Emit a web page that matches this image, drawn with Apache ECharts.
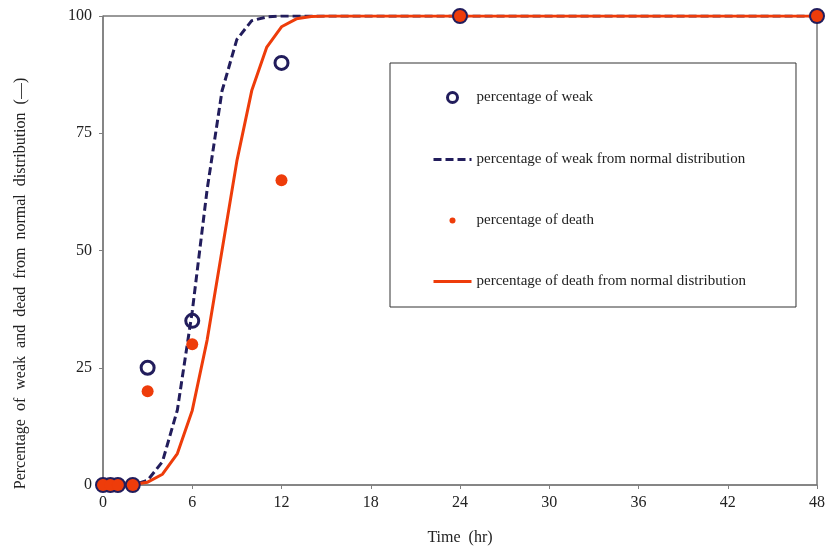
<!DOCTYPE html>
<html>
<head>
<meta charset="utf-8">
<script src="https://cdn.jsdelivr.net/npm/echarts@6/dist/echarts.min.js"></script>
<style>
	html, body { margin: 0; padding: 0; background: #fff; }
	#chart { width: 832px; height: 551px; }
</style>
</head>
<body>
<div id="chart"></div>
<script>
	// measured points (hr, %)
	var obsTime = [0, 0.5, 1, 2, 3, 6, 12, 24, 48];
	var weakObs = [0, 0, 0, 0, 25, 35, 90, 100, 100];
	var deathObs = [0, 0, 0, 0, 20, 30, 65, 100, 100];

	// fitted curves
	var fitTime = [0, 1, 2, 3, 4, 5, 6, 7, 8, 9, 10, 11, 12, 13, 14, 15, 16, 24, 48];
	var weakFit = [0, 0, 0, 1, 5, 16, 37, 63, 84, 95, 99, 99.8, 100, 100, 100, 100, 100, 100, 100];
	var deathFit = [0, 0, 0.1, 0.6, 2.3, 6.7, 15.9, 30.9, 50, 69.1, 84.1, 93.3, 97.7, 99.4, 99.9, 100, 100, 100, 100];

	var navy = '#221d5c';
	var red = '#ee3c0a';
	var font = '"Liberation Serif", "DejaVu Serif", serif';

	function pairs(xs, ys) {
		return xs.map(function (x, i) { return [x, ys[i]]; });
	}

	var chart = echarts.init(document.getElementById('chart'));
	chart.setOption({
		animation: false,
		textStyle: { fontFamily: font },
		grid: {
			left: 103, right: 15, top: 16, bottom: 66,
			show: true, borderColor: '#333', borderWidth: 1
		},
		legend: {
			orient: 'vertical',
			left: 390, top: 63,
			padding: [26, 50, 18, 42],
			itemGap: 46,
			itemWidth: 38,
			itemHeight: 14,
			borderColor: '#333',
			borderWidth: 1,
			lineStyle: { width: 3 },
			textStyle: { fontFamily: font, fontSize: 15, color: '#222' },
			data: [
				{ name: 'percentage of weak', icon: 'path://M0 0M14 14M2 7A5 5 0 1 1 12 7A5 5 0 1 1 2 7Z', itemStyle: { color: 'transparent', borderColor: navy, borderWidth: 3, opacity: 1 } },
				{ name: 'percentage of weak from normal distribution', itemStyle: { color: 'transparent', borderColor: 'transparent', borderWidth: 0 } },
				{ name: 'percentage of death', icon: 'path://M0 0M14 14M4 7A3 3 0 1 1 10 7A3 3 0 1 1 4 7Z', itemStyle: { opacity: 1 } },
				{ name: 'percentage of death from normal distribution', itemStyle: { color: 'transparent', borderColor: 'transparent', borderWidth: 0 } }
			]
		},
		xAxis: {
			type: 'value',
			min: 0, max: 48, interval: 6,
			name: 'Time  (hr)',
			nameLocation: 'middle',
			nameGap: 45,
			nameTextStyle: { fontFamily: font, fontSize: 16, color: '#222' },
			axisLine: { lineStyle: { color: '#808080', width: 1.5 } },
			axisTick: { show: true, length: 4, lineStyle: { color: '#808080' } },
			axisLabel: { fontFamily: font, fontSize: 16, color: '#222', margin: 10 },
			splitLine: { show: false }
		},
		yAxis: {
			type: 'value',
			min: 0, max: 100, interval: 25,
			name: 'Percentage  of  weak  and  dead  from  normal  distribution  (\u2014)',
			nameLocation: 'middle',
			nameGap: 74,
			nameTextStyle: { fontFamily: font, fontSize: 16, color: '#222', padding: [0, 66, 0, 0] },
			axisLine: { show: true, lineStyle: { color: '#808080', width: 1.5 } },
			axisTick: { show: true, length: 4, lineStyle: { color: '#808080' } },
			axisLabel: { fontFamily: font, fontSize: 16, color: '#222', margin: 11 },
			splitLine: { show: false }
		},
		series: [
			{
				name: 'percentage of weak from normal distribution',
				type: 'line',
				data: pairs(fitTime, weakFit),
				symbol: 'none',
				color: navy,
				lineStyle: { color: navy, width: 3, type: [8, 4] },
				z: 2
			},
			{
				name: 'percentage of death from normal distribution',
				type: 'line',
				data: pairs(fitTime, deathFit),
				symbol: 'none',
				color: red,
				lineStyle: { color: red, width: 3 },
				z: 3
			},
			{
				name: 'percentage of weak',
				type: 'scatter',
				data: pairs(obsTime, weakObs),
				symbol: 'circle',
				symbolSize: 13,
				clip: false,
				itemStyle: { color: 'transparent', borderColor: navy, borderWidth: 3, opacity: 1 },
				z: 4
			},
			{
				name: 'percentage of death',
				type: 'scatter',
				data: pairs(obsTime, deathObs),
				symbol: 'circle',
				symbolSize: 12,
				clip: false,
				itemStyle: { color: red, opacity: 1 },
				z: 5
			}
		]
	});
</script>
</body>
</html>
